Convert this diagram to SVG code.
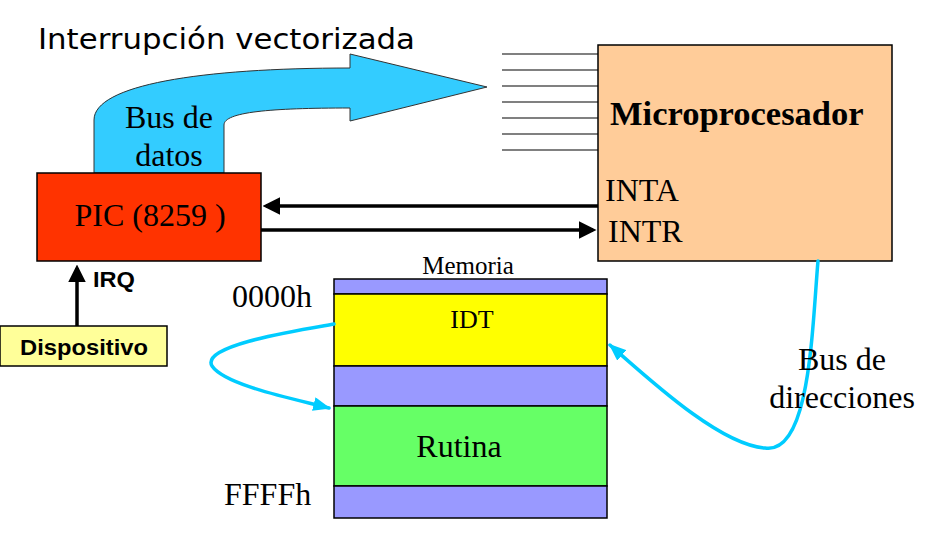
<svg xmlns="http://www.w3.org/2000/svg" width="936" height="541" viewBox="0 0 936 541">
<defs>
<style>
.serif{font-family:"Liberation Serif","Times New Roman",serif;fill:#000}
.sans{font-family:"Liberation Sans",Arial,sans-serif;font-weight:bold;fill:#000}
.box{stroke:#000;stroke-width:1.5}
.blk{stroke:#000;stroke-width:3.5;fill:none}
.cyan{stroke:#00CCFF;stroke-width:3.5;fill:none;stroke-linecap:round}
.bus{stroke:#808080;stroke-width:2}
</style>
<marker id="ah" markerWidth="5" markerHeight="5" refX="4" refY="2.5" orient="auto" markerUnits="strokeWidth"><path d="M0,0 L5,2.5 L0,5 Z" fill="#000"/></marker>
<marker id="ahc" markerWidth="5" markerHeight="4" refX="4.5" refY="2" orient="auto" markerUnits="strokeWidth"><path d="M0,0 L5,2 L0,4 Z" fill="#00CCFF"/></marker>
</defs>
<rect width="936" height="541" fill="#fff"/>
<text x="38" y="49" font-family="'DejaVu Sans',sans-serif" font-size="29" textLength="377" lengthAdjust="spacingAndGlyphs" fill="#000">Interrupción vectorizada</text>

<g id="bus-datos">
<path d="M94,173 L94,120 C94,85 200,68 350,68 L350,54 L487,87 L350,121 L350,108 C270,108 224,112 224,125 L224,173 Z" fill="#33CCFF" stroke="#333" stroke-width="1"/>
<text class="serif" x="169" y="128" font-size="32" text-anchor="middle">Bus de</text>
<text class="serif" x="169" y="166" font-size="32" text-anchor="middle">datos</text>
</g>

<g id="bus-lines">
<line class="bus" x1="502" y1="54" x2="598" y2="54"/>
<line class="bus" x1="502" y1="70" x2="598" y2="70"/>
<line class="bus" x1="502" y1="86" x2="598" y2="86"/>
<line class="bus" x1="502" y1="102" x2="598" y2="102"/>
<line class="bus" x1="502" y1="118" x2="598" y2="118"/>
<line class="bus" x1="502" y1="134" x2="598" y2="134"/>
<line class="bus" x1="502" y1="150" x2="598" y2="150"/>
</g>

<g id="microprocesador">
<rect class="box" x="598" y="45" width="294" height="216" fill="#FFCC99"/>
<text class="serif" x="610" y="125" font-size="34.5" font-weight="bold">Microprocesador</text>
<text class="serif" x="605" y="201" font-size="32">INTA</text>
<text class="serif" x="608" y="242" font-size="32">INTR</text>
</g>

<g id="pic">
<rect class="box" x="37" y="173" width="224" height="88" fill="#FF3300"/>
<text class="serif" x="150" y="226" font-size="32" text-anchor="middle">PIC (8259 )</text>
</g>

<g id="dispositivo">
<rect class="box" x="0" y="326" width="167" height="40" fill="#FFFF99"/>
<text class="sans" x="84" y="355" font-size="22" text-anchor="middle" textLength="128" lengthAdjust="spacingAndGlyphs">Dispositivo</text>
</g>

<g id="memoria">
<text class="serif" x="468" y="274" font-size="25" text-anchor="middle">Memoria</text>
<rect class="box" x="334" y="279" width="273" height="15" fill="#9999FF"/>
<rect class="box" x="334" y="294" width="273" height="72" fill="#FFFF00"/>
<rect class="box" x="334" y="366" width="273" height="40" fill="#9999FF"/>
<rect class="box" x="334" y="406" width="273" height="80" fill="#66FF66"/>
<rect class="box" x="334" y="486" width="273" height="32" fill="#9999FF"/>
<text class="serif" x="472" y="328" font-size="26" text-anchor="middle">IDT</text>
<text class="serif" x="459" y="457" font-size="32" text-anchor="middle">Rutina</text>
<text class="serif" x="232" y="307" font-size="32">0000h</text>
<text class="serif" x="224" y="505" font-size="32">FFFFh</text>
</g>

<g id="connectors">
<line class="blk" x1="598" y1="206" x2="266" y2="206" marker-end="url(#ah)"/>
<line class="blk" x1="261" y1="230" x2="593" y2="230" marker-end="url(#ah)"/>
<line class="blk" x1="77" y1="326" x2="77" y2="268" marker-end="url(#ah)"/>
<text class="sans" x="93" y="287" font-size="22" textLength="42" lengthAdjust="spacingAndGlyphs">IRQ</text>
<path class="cyan" d="M334,324 C300,330 200,345 212,366 C225,385 290,398 329,408" marker-end="url(#ahc)"/>
<path class="cyan" d="M818,261 C812,330 810,455 765,448 C720,445 650,380 610,345" marker-end="url(#ahc)"/>
<text class="serif" x="842" y="370" font-size="32" text-anchor="middle">Bus de</text>
<text class="serif" x="842" y="408" font-size="32" text-anchor="middle">direcciones</text>
</g>
</svg>
